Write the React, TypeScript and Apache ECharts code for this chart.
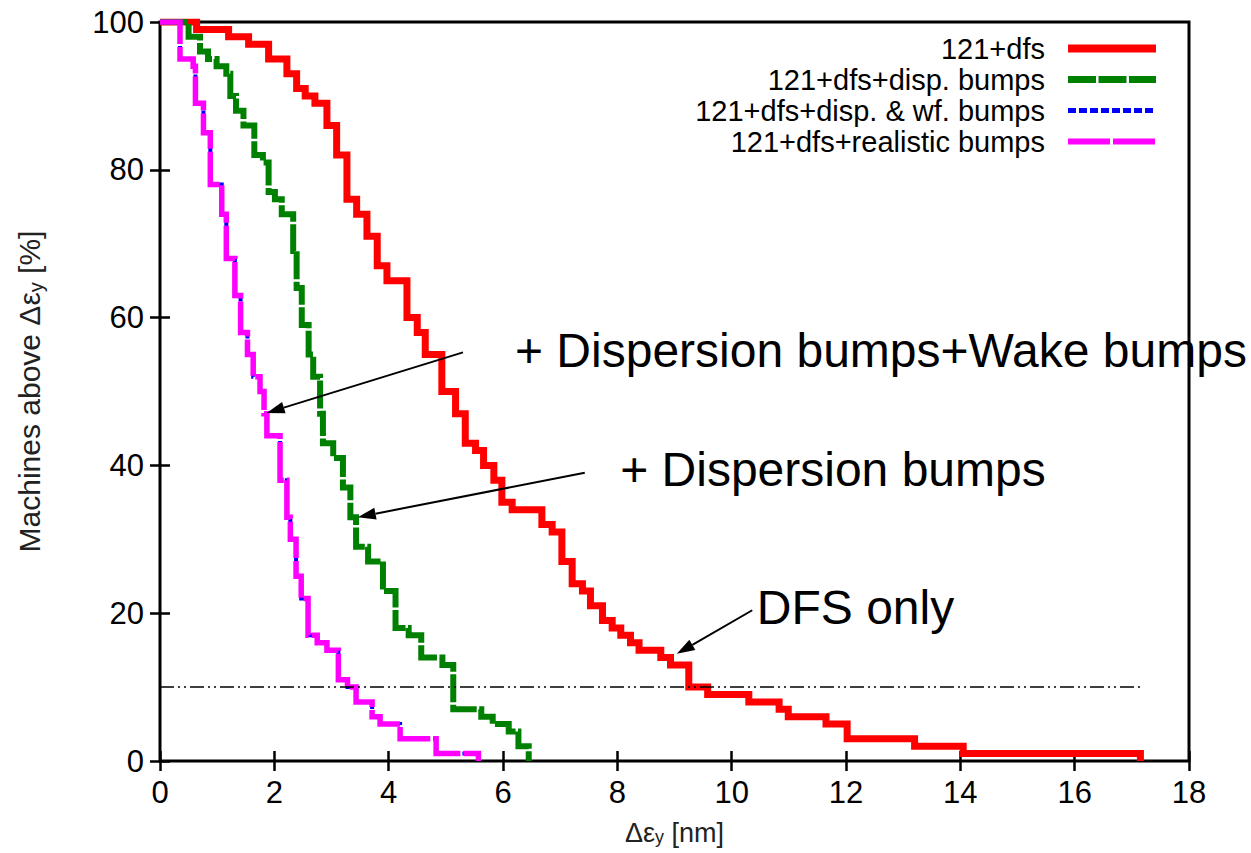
import React, { useEffect, useRef } from 'react';
import * as echarts from 'echarts';

const FONT = '"Liberation Sans", Arial, Helvetica, sans-serif';

const seriesNames = [
  '121+dfs',
  '121+dfs+disp. bumps',
  '121+dfs+disp. & wf. bumps',
  '121+dfs+realistic bumps',
];

// Δε_y [nm], machines above [%]  (step curves: value holds until next x)
const redDfs: [number, number][] = [
  [0, 100], [0.64, 99], [1.2, 98], [1.55, 97], [1.9, 95], [2.22, 93], [2.39, 91], [2.54, 90],
  [2.71, 89], [2.92, 86], [3.09, 82], [3.27, 76], [3.44, 74], [3.62, 71], [3.8, 67], [3.97, 65],
  [4.32, 60], [4.5, 58], [4.64, 55], [4.93, 50], [5.17, 47], [5.34, 43], [5.52, 42], [5.66, 40],
  [5.84, 38], [5.98, 35], [6.16, 34], [6.68, 32], [6.86, 31], [7.03, 27], [7.21, 24], [7.39, 23],
  [7.53, 21], [7.74, 19], [7.91, 18], [8.06, 17], [8.23, 16], [8.38, 15], [8.76, 14], [8.93, 13],
  [9.25, 10], [9.58, 9], [10.3, 8], [10.83, 7], [10.99, 6], [11.65, 5], [12.02, 3], [13.2, 2],
  [14.05, 1], [17.15, 0],
];

const greenDisp: [number, number][] = [
  [0, 100], [0.5, 98], [0.7, 96], [0.84, 95], [0.99, 94], [1.16, 93], [1.23, 90], [1.33, 88],
  [1.46, 86], [1.65, 82], [1.8, 81], [1.9, 77], [2.01, 76], [2.13, 74], [2.33, 69], [2.39, 64],
  [2.48, 59], [2.6, 55], [2.68, 52], [2.8, 47], [2.85, 43], [3.03, 41], [3.2, 37], [3.33, 33],
  [3.43, 29], [3.64, 27], [3.9, 23], [4.12, 18], [4.35, 17], [4.57, 14], [4.94, 13], [5.13, 7],
  [5.62, 6], [5.82, 5], [6.1, 4], [6.27, 2], [6.45, 0],
];

const blueDispWf: [number, number][] = [
  [0, 100], [0.35, 95], [0.58, 94], [0.62, 89], [0.76, 85], [0.88, 78], [1.08, 74], [1.16, 68],
  [1.31, 63], [1.41, 58], [1.53, 55], [1.63, 52], [1.75, 50], [1.82, 47], [1.87, 44], [2.1, 38],
  [2.22, 33], [2.28, 30], [2.38, 25], [2.47, 22], [2.59, 17], [2.75, 16], [2.92, 15], [3.12, 11],
  [3.28, 10], [3.43, 8], [3.71, 6], [3.85, 5], [4.2, 3], [4.83, 1], [5.57, 0],
];

const magentaRealistic: [number, number][] = [
  [0, 100], [0.35, 95], [0.58, 94], [0.62, 89], [0.76, 85], [0.88, 78], [1.08, 74], [1.16, 68],
  [1.31, 63], [1.41, 58], [1.53, 55], [1.63, 52], [1.75, 50], [1.82, 47], [1.87, 44], [2.1, 38],
  [2.22, 33], [2.28, 30], [2.38, 25], [2.47, 22], [2.59, 17], [2.75, 16], [2.92, 15], [3.12, 11],
  [3.28, 10], [3.43, 8], [3.71, 6], [3.85, 5], [4.2, 3], [4.83, 1], [5.57, 0],
];

const thresholdLine: [number, number][] = [[0, 10], [17.15, 10]];

const annotations = [
  { text: '+ Dispersion bumps+Wake bumps', textAt: [6.21, 55.6], from: [5.3, 55.3], to: [1.865, 47.1] },
  { text: '+ Dispersion bumps', textAt: [8.05, 39.4], from: [7.43, 39.0], to: [3.46, 33.0] },
  { text: 'DFS only', textAt: [10.44, 20.8], from: [10.36, 20.4], to: [9.04, 14.5] },
];

const colors = ['#ff0000', '#008000', '#0000ff', '#ff00ff'];
const widths = [7, 6, 4, 5.5];
const dashes: any[] = ['solid', [28, 2.5], [8, 3], [42, 3]];
const legendWidths = [8, 7, 5, 6];
const allData = [redDfs, greenDisp, blueDispWf, magentaRealistic];

export default function App() {
  const ref = useRef<HTMLDivElement>(null);
  useEffect(() => {
    const chart = echarts.init(ref.current!, null, { renderer: 'svg' });
    const tickStyle = { inside: true, length: 10, lineStyle: { color: '#000', width: 2.5 } };
    const yNameStyle = {
      fontSize: 30,
      color: '#222',
      fontFamily: FONT,
      rich: { sub: { fontSize: 20, color: '#222', fontFamily: FONT, padding: [14, 0, 0, 0] } },
    };
    const xNameStyle = {
      fontSize: 27,
      color: '#222',
      fontFamily: FONT,
      rich: { sub: { fontSize: 18, color: '#222', fontFamily: FONT, padding: [8, 0, 0, 0] } },
    };
    const option: any = {
      animation: false,
      backgroundColor: '#fff',
      grid: {
        left: 160, right: 62, top: 22, bottom: 92, show: true, borderColor: '#000', borderWidth: 3,
        outerBoundsMode: 'none', containLabel: false,
      },
      legend: {
        orient: 'vertical',
        right: 91,
        top: 33,
        align: 'right',
        itemWidth: 88,
        itemHeight: 12,
        itemGap: 0,
        padding: 0,
        selectedMode: false,
        textStyle: { fontSize: 29, fontFamily: FONT, color: '#000', lineHeight: 31, padding: [0, 18, 0, 0] },
        data: seriesNames.map((n, i) => ({
          name: n,
          lineStyle: { width: legendWidths[i] },
          itemStyle: { opacity: 0 },
        })),
      },
      xAxis: [
        {
          type: 'value', min: 0, max: 18, interval: 2, position: 'bottom',
          axisLine: { show: false }, axisTick: tickStyle, splitLine: { show: false },
          axisLabel: { fontSize: 31, color: '#000', margin: 16, fontFamily: FONT },
          name: 'Δε{sub|y} [nm]', nameLocation: 'middle', nameGap: 58, nameTextStyle: xNameStyle,
        },
        {
          type: 'value', min: 0, max: 18, interval: 2, position: 'top',
          axisLine: { show: false }, axisTick: tickStyle, splitLine: { show: false }, axisLabel: { show: false },
        },
      ],
      yAxis: [
        {
          type: 'value', min: 0, max: 100, interval: 20, position: 'left',
          axisLine: { show: false }, axisTick: tickStyle, splitLine: { show: false },
          axisLabel: { fontSize: 31, color: '#000', margin: 16, fontFamily: FONT },
          name: 'Machines above Δε{sub|y} [%]', nameLocation: 'middle', nameGap: 114, nameTextStyle: yNameStyle,
        },
        {
          type: 'value', min: 0, max: 100, interval: 20, position: 'right',
          axisLine: { show: false }, axisTick: tickStyle, splitLine: { show: false }, axisLabel: { show: false },
        },
      ],
      series: [
        ...allData.map((d, i) => ({
          type: 'line',
          name: seriesNames[i],
          data: d,
          step: 'end',
          symbol: 'none',
          silent: true,
          itemStyle: { color: colors[i] },
          lineStyle: { color: colors[i], width: widths[i], type: dashes[i], cap: 'butt', join: 'miter' },
        })),
        {
          type: 'line',
          name: '10% level',
          data: thresholdLine,
          symbol: 'none',
          silent: true,
          lineStyle: { color: '#000', width: 1.5, type: [14, 4, 2, 4, 2, 4] },
        },
      ],
    };
    chart.setOption(option);

    const graphics: any[] = [];
    annotations.forEach((a) => {
      const p0 = chart.convertToPixel({ gridIndex: 0 }, a.from) as number[];
      const p1 = chart.convertToPixel({ gridIndex: 0 }, a.to) as number[];
      const pt = chart.convertToPixel({ gridIndex: 0 }, a.textAt) as number[];
      const dx = p1[0] - p0[0];
      const dy = p1[1] - p0[1];
      const len = Math.hypot(dx, dy);
      const ux = dx / len;
      const uy = dy / len;
      const headLen = 18;
      const headW = 6;
      const bx = p1[0] - ux * headLen;
      const by = p1[1] - uy * headLen;
      graphics.push({
        type: 'line', z: 100, silent: true,
        shape: { x1: p0[0], y1: p0[1], x2: bx, y2: by },
        style: { stroke: '#000', lineWidth: 2 },
      });
      graphics.push({
        type: 'polygon', z: 100, silent: true,
        shape: { points: [[p1[0], p1[1]], [bx - uy * headW, by + ux * headW], [bx + uy * headW, by - ux * headW]] },
        style: { fill: '#000' },
      });
      graphics.push({
        type: 'text', z: 100, silent: true, x: pt[0], y: pt[1],
        style: { text: a.text, fontSize: 48, fontFamily: FONT, fill: '#000', verticalAlign: 'middle', align: 'left' },
      });
    });
    chart.setOption({ graphic: graphics });
    return () => chart.dispose();
  }, []);
  return <div ref={ref} style={{ position: 'absolute', left: 0, top: 0, width: 1251, height: 853 }} />;
}
